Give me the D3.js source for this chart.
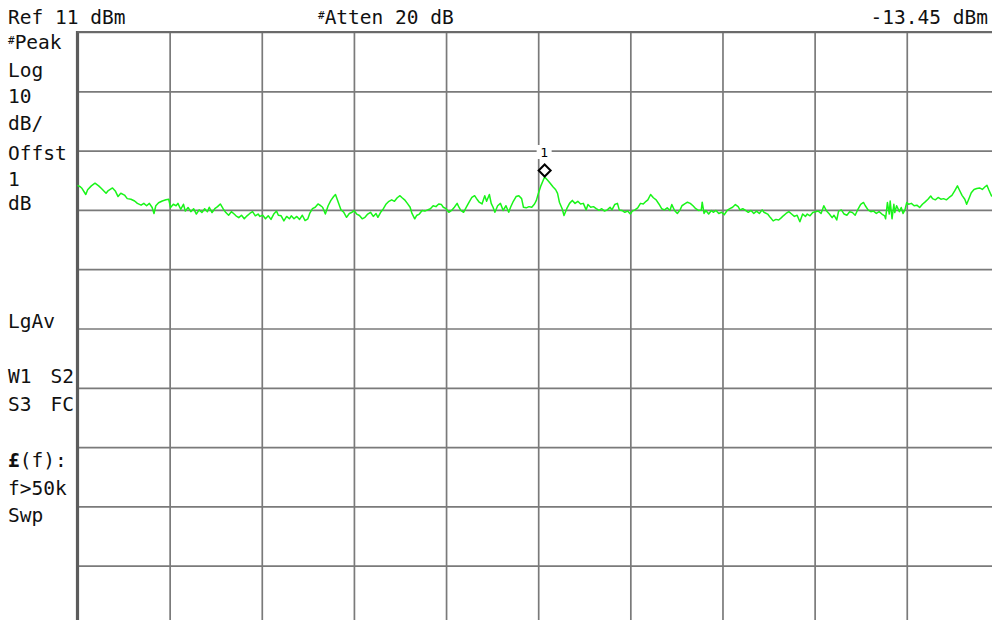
<!DOCTYPE html>
<html>
<head>
<meta charset="utf-8">
<script src="https://cdn.jsdelivr.net/npm/d3@7"></script>
<style>
  html, body { margin: 0; padding: 0; background: #fff; }
  svg { display: block; }
  text { font-family: "DejaVu Sans Mono", "Liberation Mono", monospace; fill: #111; }
</style>
</head>
<body>
<svg id="chart" width="992" height="620"></svg>
<script>
// ---- Data ----
// Instrument settings
const refLevel = 11;          // dBm at top graticule line
const dbPerDiv = 10;          // Log scale, 10 dB/div
const numDivs = 10;           // vertical & horizontal divisions
const gridDivs = [0, 1, 2, 3, 4, 5, 6, 7, 8, 9, 10];

// Trace: horizontal position in graticule divisions (0..10), level in dBm
const traceFreqDiv = [
  0.00,0.03,0.05,0.09,0.11,0.15,0.19,0.23,0.26,0.31,0.33,0.38,0.41,0.44,0.47,0.51,0.54,0.58,0.62,0.65,
  0.69,0.72,0.75,0.78,0.81,0.83,0.85,0.88,0.92,0.96,0.99,1.01,1.04,1.07,1.09,1.12,1.15,1.17,1.20,1.23,
  1.26,1.29,1.32,1.35,1.38,1.41,1.43,1.46,1.49,1.52,1.55,1.58,1.61,1.64,1.67,1.70,1.72,1.75,1.78,1.81,
  1.84,1.87,1.90,1.93,1.96,1.98,2.01,2.04,2.07,2.10,2.13,2.16,2.18,2.21,2.24,2.27,2.30,2.32,2.35,2.38,
  2.41,2.44,2.47,
  2.50,2.52,2.55,2.58,2.61,2.64,2.66,2.69,2.72,2.75,2.78,2.80,2.83,2.86,2.89,2.92,2.95,2.98,3.00,3.03,
  3.06,3.09,3.12,3.15,3.18,3.21,3.24,3.26,3.29,3.32,3.35,3.38,3.41,3.44,3.47,3.50,3.52,3.55,3.58,3.61,
  3.63,3.66,3.68,3.71,3.74,3.77,3.80,3.83,3.86,3.89,3.92,3.95,3.97,4.00,4.03,4.06,4.09,4.12,4.14,4.16,
  4.19,4.22,4.25,4.28,4.31,4.34,4.36,4.39,4.42,4.44,4.47,4.49,4.51,4.53,4.56,4.59,4.62,4.65,4.68,4.70,
  4.73,4.76,4.79,4.82,4.84,4.87,4.90,4.93,4.96,4.98,
  5.00,5.03,5.06,5.07,5.10,5.13,5.16,5.19,5.21,5.23,5.26,5.28,5.31,5.34,5.37,5.40,5.43,5.46,5.49,5.52,
  5.54,5.57,5.60,5.63,5.66,5.69,5.72,5.75,5.78,5.80,5.83,5.86,5.88,5.91,5.94,5.97,6.00,6.02,6.05,6.08,
  6.11,6.14,6.17,6.19,6.22,6.25,6.28,6.31,6.34,6.37,6.40,6.43,6.45,6.48,6.51,6.54,6.56,6.59,6.62,6.65,
  6.68,6.71,6.74,6.77,6.78,6.80,6.82,6.85,6.88,6.90,6.93,6.96,6.99,7.02,7.05,7.08,7.11,7.14,7.17,7.19,
  7.22,7.25,7.28,7.31,7.34,7.37,7.40,7.43,7.45,
  7.49,7.52,7.55,7.58,7.61,7.64,7.66,7.69,7.72,7.75,7.78,7.81,7.84,7.87,7.90,7.92,7.95,7.98,8.01,8.04,
  8.07,8.10,8.13,8.16,8.19,8.21,8.24,8.26,8.29,8.32,8.35,8.38,8.41,8.44,8.47,8.50,8.53,8.55,8.58,8.61,
  8.64,8.67,8.70,8.73,8.76,8.77,8.79,8.81,8.82,8.84,8.86,8.87,8.89,8.92,8.94,8.96,8.98,9.00,9.02,9.05,
  9.08,9.11,9.14,9.17,9.20,9.23,9.26,9.28,9.31,9.34,9.37,9.40,9.43,9.46,9.49,9.52,9.55,9.57,9.60,9.63,
  9.65,9.68,9.70,9.73,9.76,9.79,9.82,9.85,9.87,9.89,9.92,10.00
];
const traceLevelDbm = [
  -14.85,-15.1,-15.4,-16.4,-15.6,-14.95,-14.5,-14.95,-15.4,-16.2,-15.8,-15.3,-15.8,-16.75,-16.2,-16.5,-17.1,-17.2,-17.5,-17.9,
  -18.2,-17.9,-18.3,-17.9,-18.6,-19.6,-18.3,-17.8,-17.5,-17.3,-17.2,-18.6,-18.05,-18.3,-17.9,-18.9,-18.05,-19.2,-18.6,-19.3,
  -18.8,-19.7,-19.0,-19.45,-18.8,-19.3,-18.55,-19.45,-18.8,-18.45,-18.0,-18.8,-19.45,-19.9,-19.3,-19.7,-20.0,-20.3,-19.9,-20.5,
  -20.0,-19.6,-19.3,-20.0,-19.7,-20.1,-19.9,-20.5,-20.0,-20.6,-19.7,-19.2,-19.9,-20.0,-20.85,-20.1,-20.5,-20.0,-20.5,-20.1,
  -20.6,-19.9,-20.8,
  -20.5,-19.6,-18.8,-18.55,-18.0,-18.3,-18.55,-19.7,-18.3,-17.4,-16.75,-16.4,-17.7,-19.0,-19.4,-20.25,-19.6,-19.4,-19.1,-19.7,
  -19.95,-20.5,-20.25,-19.7,-19.4,-20.1,-19.6,-20.25,-19.4,-18.8,-18.0,-17.55,-17.3,-17.55,-16.95,-16.6,-16.9,-17.3,-17.9,-18.55,
  -19.6,-20.5,-19.95,-19.7,-19.1,-19.2,-19.0,-18.8,-18.3,-18.45,-18.0,-18.1,-18.55,-18.8,-19.4,-19.1,-18.55,-17.9,-18.55,-19.1,
  -19.4,-18.55,-17.7,-16.9,-16.6,-17.3,-17.7,-18.0,-16.6,-17.55,-16.4,-17.9,-18.55,-19.4,-18.3,-17.9,-19.1,-18.3,-19.4,-18.55,
  -17.55,-16.75,-16.6,-17.1,-18.55,-18.65,-18.45,-18.55,-18.0,-17.4,
  -16.3,-14.9,-13.8,-13.45,-13.95,-14.5,-15.1,-15.6,-16.2,-17.7,-18.8,-19.95,-18.8,-17.9,-17.4,-17.9,-17.55,-18.0,-17.9,-19.0,
  -18.1,-18.55,-18.45,-18.8,-19.1,-18.8,-19.2,-19.0,-18.55,-19.0,-18.1,-17.9,-19.0,-19.1,-19.4,-19.2,-19.7,-19.2,-19.0,-18.65,
  -17.9,-18.0,-17.55,-17.3,-16.4,-16.95,-17.3,-18.0,-18.8,-19.0,-18.65,-19.1,-18.1,-19.1,-19.6,-19.0,-18.3,-18.0,-17.7,-17.9,
  -18.3,-18.8,-19.1,-19.0,-17.7,-19.6,-19.1,-19.7,-19.1,-19.4,-19.1,-19.6,-19.4,-19.8,-19.1,-18.8,-18.55,-18.1,-18.45,-19.0,
  -18.8,-19.1,-19.4,-19.1,-19.6,-19.2,-19.6,-19.0,-19.4,
  -19.7,-20.3,-20.85,-20.6,-20.7,-20.3,-20.0,-19.6,-19.3,-19.7,-20.1,-19.9,-21.0,-19.7,-20.1,-19.7,-20.0,-19.45,-19.3,-19.2,
  -19.6,-18.3,-19.2,-19.7,-20.3,-19.9,-20.7,-19.2,-19.0,-19.7,-19.9,-19.3,-19.45,-19.9,-18.9,-18.05,-17.75,-18.3,-19.0,-19.3,
  -19.2,-19.6,-19.3,-19.7,-20.0,-20.5,-17.75,-19.7,-17.5,-20.5,-18.05,-19.45,-18.3,-19.3,-18.6,-19.6,-19.0,-17.75,-18.05,-17.9,
  -18.3,-18.2,-18.6,-18.05,-17.65,-17.2,-16.65,-17.1,-17.3,-16.9,-17.2,-17.1,-17.3,-16.9,-16.55,-15.8,-14.95,-15.6,-16.55,-17.2,
  -18.05,-16.9,-16.1,-15.55,-15.4,-15.3,-15.55,-15.1,-14.85,-15.6,-16.65,-16.0
];

// Marker 1
const markerFreqDiv = 5.07;
const markerLevelDbm = -13.45;
const markerLabel = "1";

// Annotation texts
const topLeftText = "Ref 11 dBm";
const topMidText = ["#", "Atten 20 dB"];
const topRightText = "-13.45 dBm";
const sideLabels = [
  ["#", "Peak"], ["", "Log"], ["", "10"], ["", "dB/"], ["", "Offst"], ["", "1"], ["", "dB"],
  ["", "LgAv"]
];
const sideLabelBaselines = [49, 77, 103, 130, 160, 186, 210, 328];
const sidePairs = [["W1", "S2"], ["S3", "FC"]];
const sidePairBaselines = [383, 411];
const condLabels = ["(f):", "f>50k", "Swp"];
const condBaselines = [467, 495, 522];

// ---- Drawing ----
const svg = d3.select("#chart");
const plotLeft = 77.5, plotTop = 32, plotW = 921.4, plotH = 593;

const x = d3.scaleLinear().domain([0, numDivs]).range([plotLeft, plotLeft + plotW]);
const y = d3.scaleLinear().domain([refLevel - dbPerDiv * numDivs, refLevel]).range([plotTop + plotH, plotTop]);
const yTicks = gridDivs.map(k => refLevel - k * dbPerDiv);

// Graticule via axes
const gx = svg.append("g")
  .attr("transform", `translate(0,${plotTop})`)
  .call(d3.axisBottom(x).tickValues(gridDivs).tickSize(plotH).tickFormat(""));
gx.select(".domain").remove();
gx.selectAll(".tick line").attr("stroke", "#7a7a7a").attr("stroke-width", 1.7);

const gy = svg.append("g")
  .attr("transform", `translate(${plotLeft},0)`)
  .call(d3.axisRight(y).tickValues(yTicks).tickSize(plotW).tickFormat(""));
gy.select(".domain").remove();
gy.selectAll(".tick line").attr("stroke", "#7a7a7a").attr("stroke-width", 1.7);

// Frame (left and top edges)
svg.append("line").attr("x1", x(0)).attr("x2", x(0)).attr("y1", y(refLevel) - 1).attr("y2", 620)
  .attr("stroke", "#5c5c5c").attr("stroke-width", 3.2);
svg.append("line").attr("x1", x(0)).attr("x2", x(numDivs)).attr("y1", y(refLevel)).attr("y2", y(refLevel))
  .attr("stroke", "#6a6a6a").attr("stroke-width", 2.2);

// Trace
const n = Math.min(traceFreqDiv.length, traceLevelDbm.length);
const traceData = d3.range(n).map(i => [traceFreqDiv[i], traceLevelDbm[i]]);
svg.append("path")
  .datum(traceData)
  .attr("fill", "none")
  .attr("stroke", "#19f419")
  .attr("stroke-width", 1.5)
  .attr("stroke-linejoin", "round")
  .attr("d", d3.line().x(d => x(d[0])).y(d => y(d[1])));

// Marker
const mx = x(markerFreqDiv), my = y(markerLevelDbm);
const mk = svg.append("g").attr("transform", `translate(${mx},${my - 6.5})`);
mk.append("path").attr("d", "M0,-6L6,0L0,6L-6,0Z")
  .attr("fill", "#fff").attr("stroke", "#000").attr("stroke-width", 2);
svg.append("rect").attr("x", mx - 8).attr("y", my - 32).attr("width", 15).attr("height", 14).attr("fill", "#fff");
svg.append("text").attr("x", mx - 0.5).attr("y", my - 19.5).attr("text-anchor", "middle")
  .style("font-size", "13px").style("fill", "#000").text(markerLabel);

// Texts
const fs = "19.5px";
svg.append("text").attr("x", 8).attr("y", 24).style("font-size", fs).text(topLeftText);

function hashText(xp, yb, parts, anchor) {
  const t = svg.append("text").attr("x", xp).attr("y", yb).style("font-size", fs);
  if (anchor) t.attr("text-anchor", anchor);
  if (parts[0]) {
    t.append("tspan").style("font-size", "11px").attr("dy", -5).text(parts[0]);
    t.append("tspan").attr("dy", 5).text(parts[1]);
  } else {
    t.text(parts[1]);
  }
  return t;
}
hashText(318, 24, topMidText);
svg.append("text").attr("x", 988).attr("y", 24).attr("text-anchor", "end").style("font-size", fs).text(topRightText);

sideLabels.forEach((p, i) => hashText(8, sideLabelBaselines[i], p));
sidePairs.forEach((p, i) => {
  svg.append("text").attr("x", 8).attr("y", sidePairBaselines[i]).style("font-size", fs).text(p[0]);
  svg.append("text").attr("x", 74).attr("y", sidePairBaselines[i]).attr("text-anchor", "end").style("font-size", fs).text(p[1]);
});
condLabels.forEach((s, i) => {
  const t = svg.append("text").attr("x", 8).attr("y", condBaselines[i]).style("font-size", fs);
  if (i === 0) {
    t.append("tspan").style("font-weight", "bold").text("£");
    t.append("tspan").text(s);
  } else {
    t.text(s);
  }
});
</script>
</body>
</html>
